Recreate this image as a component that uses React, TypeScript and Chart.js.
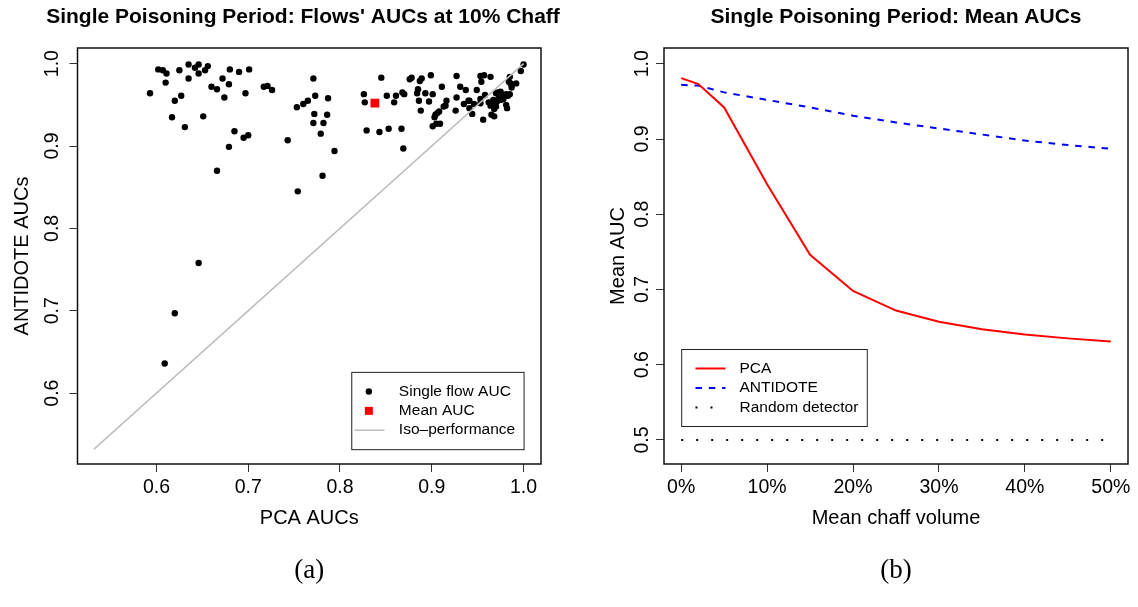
import React, { useEffect, useRef } from "react";
import { Chart, registerables } from "chart.js";

Chart.register(...registerables);

const FONT = "'Liberation Sans', Arial, Helvetica, sans-serif";
const SERIF = "'Liberation Serif', 'DejaVu Serif', serif";

// ---------- Panel (a): per-flow AUCs at 10% chaff ----------
const pcaAucs = [
  0.593, 0.602, 0.607, 0.611, 0.61, 0.62, 0.627, 0.617, 0.631, 0.625,
  0.635, 0.635, 0.642, 0.646, 0.646, 0.653, 0.656, 0.651, 0.66, 0.666,
  0.672, 0.674, 0.679, 0.68, 0.69, 0.701, 0.697, 0.685, 0.679, 0.695,
  0.7, 0.666, 0.717, 0.721, 0.726, 0.743, 0.753, 0.76, 0.765, 0.771,
  0.773, 0.772, 0.771, 0.779, 0.754, 0.781, 0.787, 0.786, 0.782, 0.794,
  0.826, 0.827, 0.845, 0.829, 0.843, 0.853, 0.867, 0.869, 0.851, 0.859,
  0.861, 0.868, 0.87, 0.876, 0.878, 0.887, 0.889, 0.899, 0.885, 0.884,
  0.893, 0.901, 0.886, 0.897, 0.888, 0.911, 0.916, 0.915, 0.913, 0.908,
  0.906, 0.904, 0.903, 0.905, 0.909, 0.901, 0.926, 0.927, 0.927, 0.931,
  0.935, 0.937, 0.94, 0.941, 0.941, 0.944, 0.946, 0.949, 0.953, 0.953,
  0.953, 0.957, 0.954, 0.964, 0.956, 0.964, 0.965, 0.968, 0.967, 0.969,
  0.97, 0.971, 0.97, 0.972, 0.973, 0.975, 0.977, 0.978, 0.98, 0.981,
  0.983, 0.985, 0.981, 0.982, 0.985, 0.984, 0.986, 0.987, 0.987, 0.992,
  0.997, 1.0, 0.646, 0.62, 0.609, 0.962, 0.975, 0.979, 0.968, 0.958,
];
const antidoteAucs = [
  0.964, 0.993, 0.992, 0.988, 0.977, 0.955, 0.961, 0.935, 0.923, 0.992,
  0.999, 0.982, 0.995, 0.999, 0.988, 0.992, 0.997, 0.936, 0.972, 0.969,
  0.982, 0.959, 0.975, 0.993, 0.99, 0.993, 0.964, 0.918, 0.899, 0.91,
  0.913, 0.87, 0.972, 0.973, 0.968, 0.907, 0.947, 0.951, 0.955, 0.982,
  0.961, 0.939, 0.928, 0.915, 0.845, 0.864, 0.958, 0.938, 0.928, 0.894,
  0.963, 0.953, 0.983, 0.919, 0.917, 0.921, 0.921, 0.897, 0.961, 0.953,
  0.961, 0.965, 0.963, 0.981, 0.983, 0.979, 0.982, 0.986, 0.969, 0.964,
  0.964, 0.963, 0.955, 0.954, 0.943, 0.972, 0.955, 0.949, 0.948, 0.942,
  0.94, 0.938, 0.935, 0.927, 0.927, 0.924, 0.943, 0.985, 0.959, 0.972,
  0.951, 0.968, 0.955, 0.955, 0.946, 0.939, 0.951, 0.968, 0.957, 0.952,
  0.985, 0.986, 0.978, 0.984, 0.932, 0.949, 0.938, 0.936, 0.956, 0.952,
  0.948, 0.954, 0.964, 0.965, 0.958, 0.956, 0.959, 0.957, 0.961, 0.963,
  0.961, 0.963, 0.95, 0.946, 0.984, 0.978, 0.976, 0.974, 0.971, 0.976,
  0.991, 0.999, 0.758, 0.697, 0.636, 0.953, 0.966, 0.962, 0.945, 0.962,
];
const meanPcaAuc = [0.838];
const meanAntidoteAuc = [0.952];
const isoEnds = [0.532, 1.0];
const ticksA = [0.6, 0.7, 0.8, 0.9, 1.0];
const rangeA = [0.514, 1.019];
const legendA = ["Single flow AUC", "Mean AUC", "Iso\u2013performance"];

// ---------- Panel (b): mean AUCs vs chaff volume ----------
const chaffVolume = [0, 2, 5, 10, 15, 20, 25, 30, 35, 40, 45, 50];
const pcaMeanAuc = [0.981, 0.973, 0.942, 0.84, 0.746, 0.698, 0.672, 0.657, 0.647, 0.64, 0.635, 0.631];
const antidoteMeanAuc = [0.972, 0.971, 0.962, 0.952, 0.942, 0.931, 0.922, 0.914, 0.906, 0.898, 0.892, 0.887];
const randomDetectorAuc = [0.5, 0.5];
const randomDetectorX = [0, 50];
const xTicksB = [0, 10, 20, 30, 40, 50];
const yTicksB = [0.5, 0.6, 0.7, 0.8, 0.9, 1.0];
const xRangeB = [-2, 52];
const yRangeB = [0.468, 1.021];
const legendB = ["PCA", "ANTIDOTE", "Random detector"];

const tickFont = { family: FONT, size: 19.5 };
const titleFont = { family: FONT, size: 20 };
const mainTitleFont = { family: FONT, size: 21, weight: "bold" };
const captionFont = { family: SERIF, size: 27 };
const gridStyle = {
  display: true,
  drawOnChartArea: false,
  drawTicks: true,
  tickLength: 8,
  color: "#333",
  lineWidth: 1,
};

function boxPlugin(id: string, drawLegend: (chart: any) => void) {
  return {
    id,
    afterDraw(chart: any) {
      const { ctx, chartArea: ca } = chart;
      ctx.save();
      ctx.strokeStyle = "#111";
      ctx.lineWidth = 1.5;
      ctx.strokeRect(ca.left, ca.top, ca.right - ca.left, ca.bottom - ca.top);
      ctx.restore();
      drawLegend(chart);
    },
  };
}

function legendAPainter(chart: any) {
  const { ctx, scales } = chart;
  const right = scales.x.getPixelForValue(1.0);
  const bottom = scales.y.getPixelForValue(isoEnds[0]);
  const w = 172.3;
  const h = 77.3;
  const left = right - w;
  const top = bottom - h;
  ctx.save();
  ctx.fillStyle = "#fff";
  ctx.fillRect(left, top, w, h);
  ctx.strokeStyle = "#222";
  ctx.lineWidth = 1;
  ctx.strokeRect(left + 0.5, top + 0.5, w, h);
  const rows = [top + 19.7, top + 39, top + 58.3];
  const sx = left + 17.6;
  ctx.fillStyle = "#000";
  ctx.beginPath();
  ctx.arc(sx, rows[0], 3.2, 0, Math.PI * 2);
  ctx.fill();
  ctx.fillStyle = "#ff0000";
  ctx.fillRect(sx - 4, rows[1] - 4, 8, 8);
  ctx.strokeStyle = "#bebebe";
  ctx.lineWidth = 1.5;
  ctx.beginPath();
  ctx.moveTo(left + 3.3, rows[2]);
  ctx.lineTo(left + 33.3, rows[2]);
  ctx.stroke();
  ctx.fillStyle = "#000";
  ctx.font = `15.5px ${FONT}`;
  ctx.textBaseline = "middle";
  ctx.textAlign = "left";
  legendA.forEach((t, i) => ctx.fillText(t, left + 47.6, rows[i]));
  ctx.restore();
}

function legendBPainter(chart: any) {
  const { ctx, scales, chartArea: ca } = chart;
  const left = scales.x.getPixelForValue(0);
  const w = 185.6;
  const h = 77;
  const top = ca.bottom - 38 - h;
  ctx.save();
  ctx.fillStyle = "#fff";
  ctx.fillRect(left, top, w, h);
  ctx.strokeStyle = "#222";
  ctx.lineWidth = 1;
  ctx.strokeRect(left + 0.5, top + 0.5, w, h);
  const rows = [top + 19.5, top + 39, top + 58.5];
  const styles = [
    { c: "#ff0000", d: [] as number[] },
    { c: "#0000ff", d: [6.5, 6.8] },
    { c: "#000000", d: [2, 13] },
  ];
  styles.forEach((s, i) => {
    ctx.strokeStyle = s.c;
    ctx.lineWidth = 2;
    ctx.setLineDash(s.d);
    ctx.beginPath();
    ctx.moveTo(left + 14.3, rows[i]);
    ctx.lineTo(left + 44.3, rows[i]);
    ctx.stroke();
  });
  ctx.setLineDash([]);
  ctx.fillStyle = "#000";
  ctx.font = `15.5px ${FONT}`;
  ctx.textBaseline = "middle";
  ctx.textAlign = "left";
  legendB.forEach((t, i) => ctx.fillText(t, left + 58.3, rows[i]));
  ctx.restore();
}

function configA(): any {
  return {
    type: "scatter",
    data: {
      datasets: [
        {
          label: legendA[2],
          data: isoEnds.map((v) => ({ x: v, y: v })),
          showLine: true,
          borderColor: "#bebebe",
          borderWidth: 1.5,
          pointRadius: 0,
        },
        {
          label: legendA[1],
          data: meanPcaAuc.map((v, i) => ({ x: v, y: meanAntidoteAuc[i] })),
          pointStyle: "rect",
          pointRadius: 6.2,
          backgroundColor: "#ff0000",
          borderWidth: 0,
        },
        {
          label: legendA[0],
          data: pcaAucs.map((v, i) => ({ x: v, y: antidoteAucs[i] })),
          pointRadius: 3.2,
          backgroundColor: "#000",
          borderWidth: 0,
        },
      ],
    },
    options: {
      responsive: false,
      animation: false,
      devicePixelRatio: 1,
      events: [],
      layout: { padding: { left: 37, right: 0, top: 0, bottom: 0 } },
      plugins: {
        legend: { display: false },
        tooltip: { enabled: false },
        title: {
          display: true,
          text: "Single Poisoning Period: Flows' AUCs at 10% Chaff",
          font: mainTitleFont,
          color: "#000",
          padding: { top: 4.4, bottom: 18.4 },
          fullSize: true,
        },
        subtitle: {
          display: true,
          position: "bottom",
          text: "(a)",
          font: captionFont,
          color: "#000",
          padding: { top: 16, bottom: 19.6 },
          fullSize: false,
        },
      },
      scales: {
        x: {
          type: "linear",
          min: rangeA[0],
          max: rangeA[1],
          afterBuildTicks: (s: any) => {
            s.ticks = ticksA.map((v) => ({ value: v }));
          },
          afterFit: (s: any) => {
            s.height = 75;
          },
          ticks: {
            callback: (v: any) => Number(v).toFixed(1),
            font: tickFont,
            color: "#000",
            padding: 4,
            autoSkip: false,
            minRotation: 0,
            maxRotation: 0,
          },
          grid: gridStyle,
          border: { display: false },
          title: { display: true, text: "PCA AUCs", font: titleFont, color: "#000", padding: { top: 0, bottom: 9 } },
        },
        y: {
          type: "linear",
          min: rangeA[0],
          max: rangeA[1],
          afterBuildTicks: (s: any) => {
            s.ticks = ticksA.map((v) => ({ value: v }));
          },
          afterFit: (s: any) => {
            s.width = 40.5;
          },
          ticks: {
            callback: (v: any) => Number(v).toFixed(1),
            font: tickFont,
            color: "#000",
            padding: 3,
            autoSkip: false,
            minRotation: 90,
            maxRotation: 90,
            crossAlign: "center",
          },
          grid: gridStyle,
          border: { display: false },
          title: { display: true, text: "ANTIDOTE AUCs", font: titleFont, color: "#000", padding: { top: -27, bottom: 0 } },
        },
        margin: {
          type: "linear",
          position: "right",
          display: true,
          grid: { display: false },
          border: { display: false },
          ticks: { display: false },
          afterFit: (s: any) => {
            s.width = 28;
          },
        },
      },
    },
    plugins: [boxPlugin("boxA", legendAPainter)],
  };
}

function configB(): any {
  return {
    type: "scatter",
    data: {
      datasets: [
        {
          label: legendB[0],
          data: chaffVolume.map((x, i) => ({ x, y: pcaMeanAuc[i] })),
          showLine: true,
          borderColor: "#ff0000",
          borderWidth: 2,
          pointRadius: 0,
        },
        {
          label: legendB[1],
          data: chaffVolume.map((x, i) => ({ x, y: antidoteMeanAuc[i] })),
          showLine: true,
          borderColor: "#0000ff",
          borderWidth: 2,
          borderDash: [6.5, 6.8],
          pointRadius: 0,
        },
        {
          label: legendB[2],
          data: randomDetectorX.map((x, i) => ({ x, y: randomDetectorAuc[i] })),
          showLine: true,
          borderColor: "#000",
          borderWidth: 2,
          borderDash: [2, 13],
          pointRadius: 0,
        },
      ],
    },
    options: {
      responsive: false,
      animation: false,
      devicePixelRatio: 1,
      events: [],
      layout: { padding: { left: 0, right: 10, top: 0, bottom: 0 } },
      plugins: {
        legend: { display: false },
        tooltip: { enabled: false },
        title: {
          display: true,
          text: "Single Poisoning Period: Mean AUCs",
          font: mainTitleFont,
          color: "#000",
          padding: { top: 4.4, bottom: 18.4 },
          fullSize: false,
        },
        subtitle: {
          display: true,
          position: "bottom",
          text: "(b)",
          font: captionFont,
          color: "#000",
          padding: { top: 16, bottom: 19.6 },
          fullSize: false,
        },
      },
      scales: {
        x: {
          type: "linear",
          min: xRangeB[0],
          max: xRangeB[1],
          afterBuildTicks: (s: any) => {
            s.ticks = xTicksB.map((v) => ({ value: v }));
          },
          afterFit: (s: any) => {
            s.height = 75;
          },
          ticks: {
            callback: (v: any) => `${v}%`,
            font: tickFont,
            color: "#000",
            padding: 4,
            autoSkip: false,
            minRotation: 0,
            maxRotation: 0,
          },
          grid: gridStyle,
          border: { display: false },
          title: { display: true, text: "Mean chaff volume", font: titleFont, color: "#000", padding: { top: 0, bottom: 9 } },
        },
        y: {
          type: "linear",
          min: yRangeB[0],
          max: yRangeB[1],
          afterBuildTicks: (s: any) => {
            s.ticks = yTicksB.map((v) => ({ value: v }));
          },
          afterFit: (s: any) => {
            s.width = 95;
          },
          ticks: {
            callback: (v: any) => Number(v).toFixed(1),
            font: tickFont,
            color: "#000",
            padding: 0,
            autoSkip: false,
            minRotation: 90,
            maxRotation: 90,
            crossAlign: "center",
          },
          grid: gridStyle,
          border: { display: false },
          title: { display: true, text: "Mean AUC", font: titleFont, color: "#000", padding: { top: 37, bottom: 0 } },
        },
      },
    },
    plugins: [boxPlugin("boxB", legendBPainter)],
  };
}

export default function App() {
  const refA = useRef<HTMLCanvasElement>(null);
  const refB = useRef<HTMLCanvasElement>(null);
  useEffect(() => {
    const a = new Chart(refA.current as HTMLCanvasElement, configA());
    const b = new Chart(refB.current as HTMLCanvasElement, configB());
    return () => {
      a.destroy();
      b.destroy();
    };
  }, []);
  return (
    <div style={{ position: "absolute", left: 0, top: 0, width: 1138, height: 607, background: "#fff" }}>
      <div style={{ position: "absolute", left: 0, top: 0, width: 569, height: 607 }}>
        <canvas ref={refA} width={569} height={607} style={{ display: "block", width: 569, height: 607 }} />
      </div>
      <div style={{ position: "absolute", left: 569, top: 0, width: 569, height: 607 }}>
        <canvas ref={refB} width={569} height={607} style={{ display: "block", width: 569, height: 607 }} />
      </div>
    </div>
  );
}
